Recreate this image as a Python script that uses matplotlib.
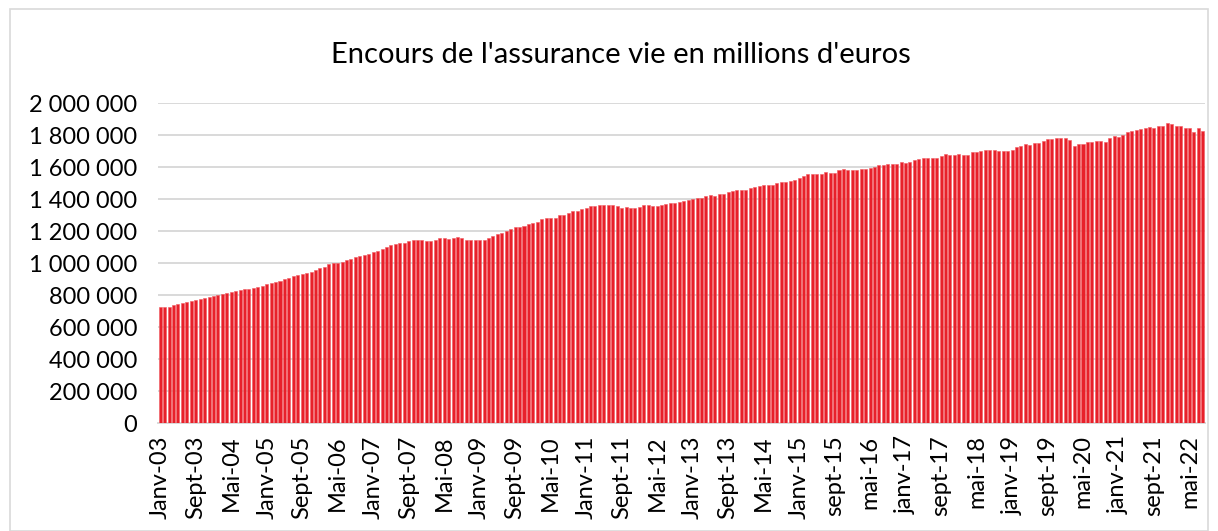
import matplotlib.pyplot as plt
from matplotlib.patches import Rectangle
from matplotlib.ticker import FuncFormatter
import numpy as np

# encours mensuel, milliers de millions, janv-03 -> août-22
encours_k = [
    723, 727, 727, 738, 744, 750, 758, 765, 767, 773, 779, 785,
    792, 800, 806, 810, 817, 823, 831, 835, 840, 846, 852, 858,
    867, 877, 883, 888, 898, 908, 921, 923, 933, 935, 944, 954,
    967, 977, 992, 997, 1000, 1008, 1019, 1027, 1036, 1044, 1051, 1059,
    1069, 1078, 1086, 1101, 1112, 1120, 1124, 1124, 1135, 1141, 1143, 1143,
    1135, 1139, 1141, 1154, 1158, 1152, 1156, 1162, 1154, 1141, 1141, 1141,
    1141, 1141, 1154, 1168, 1181, 1187, 1203, 1213, 1225, 1227, 1234, 1244,
    1248, 1259, 1276, 1282, 1282, 1284, 1299, 1303, 1314, 1324, 1324, 1335,
    1345, 1354, 1354, 1360, 1362, 1364, 1362, 1354, 1345, 1352, 1345, 1345,
    1349, 1360, 1360, 1356, 1354, 1360, 1368, 1375, 1377, 1383, 1389, 1396,
    1402, 1404, 1408, 1419, 1423, 1417, 1432, 1430, 1443, 1449, 1455, 1455,
    1455, 1466, 1472, 1479, 1487, 1487, 1489, 1500, 1506, 1504, 1513, 1519,
    1530, 1545, 1555, 1557, 1557, 1557, 1570, 1564, 1560, 1583, 1589, 1579,
    1581, 1580, 1587, 1587, 1596, 1598, 1611, 1615, 1617, 1619, 1621, 1629,
    1625, 1632, 1642, 1648, 1655, 1655, 1657, 1659, 1669, 1680, 1678, 1674,
    1682, 1678, 1676, 1693, 1691, 1697, 1707, 1705, 1705, 1697, 1699, 1697,
    1709, 1726, 1733, 1741, 1735, 1748, 1752, 1762, 1775, 1775, 1781, 1779,
    1779, 1766, 1733, 1741, 1745, 1756, 1756, 1762, 1762, 1756, 1781, 1794,
    1789, 1800, 1817, 1823, 1832, 1838, 1846, 1853, 1846, 1857, 1857, 1874,
    1867, 1855, 1855, 1844, 1844, 1819, 1844, 1825,
]
encours = np.array(encours_k) * 1000

# une etiquette tous les 8 mois
labels = [
    "Janv-03", "Sept-03", "Mai-04", "Janv-05", "Sept-05", "Mai-06",
    "Janv-07", "Sept-07", "Mai-08", "Janv-09", "Sept-09", "Mai-10",
    "Janv-11", "Sept-11", "Mai-12", "Janv-13", "Sept-13", "Mai-14",
    "Janv-15", "sept-15", "mai-16", "janv-17", "sept-17", "mai-18",
    "janv-19", "sept-19", "mai-20", "janv-21", "sept-21", "mai-22",
]

plt.rcParams['font.family'] = ['Lato', 'DejaVu Sans']

fig = plt.figure(figsize=(12.18, 5.31), dpi=100)
ax = fig.add_axes([158 / 1218, 1 - 423 / 531, (1205 - 158) / 1218, 320 / 531])

x = np.arange(len(encours))
ax.bar(x, encours, width=0.68, color='#E8202A', edgecolor='#F05A60',
       linewidth=0.4, zorder=3)

ax.set_xlim(-0.5, len(encours) - 0.5)
ax.set_ylim(0, 2000000)
ax.set_yticks(np.arange(0, 2000001, 200000))
ax.yaxis.set_major_formatter(FuncFormatter(lambda v, p: f"{int(v):,}".replace(",", " ")))
ax.set_xticks(np.arange(0, len(encours), 8))
ax.set_xticklabels(labels, rotation=90)

ax.grid(axis='y', color='#D9D9D9', linewidth=1.4, zorder=0)
ax.tick_params(axis='both', length=0, labelsize=17, colors='black')
ax.tick_params(axis='y', pad=15)
ax.tick_params(axis='x', pad=9)
for s in ['top', 'right', 'left']:
    ax.spines[s].set_visible(False)
ax.spines['bottom'].set_color('#D9D9D9')
ax.spines['bottom'].set_linewidth(1.4)

fig.text(621 / 1218, 1 - 55 / 531, "Encours de l'assurance vie en millions d'euros",
         ha='center', va='center', fontsize=21)

fig.patches.append(Rectangle((10 / 1218, 0), 1198 / 1218, 1 - 9 / 531,
                             transform=fig.transFigure, fill=False,
                             edgecolor='#D9D9D9', linewidth=1.2))

fig.savefig('out.png', dpi=100)
